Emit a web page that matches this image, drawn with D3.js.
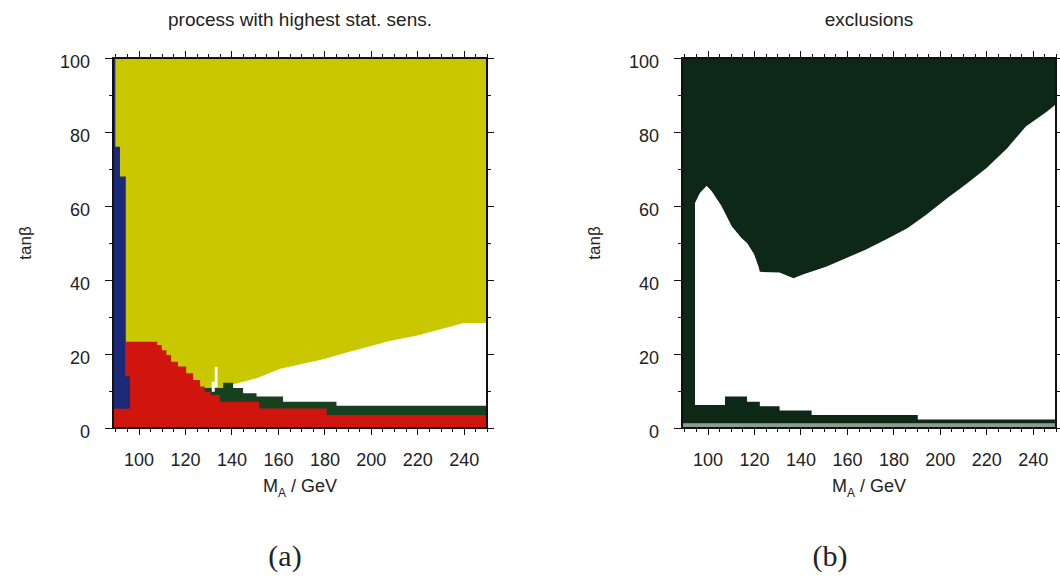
<!DOCTYPE html>
<html>
<head>
    <meta charset="utf-8">
    <script src="https://d3js.org/d3.v7.min.js"></script>
    <style>
      body { margin:0; background:#fff; }
      text { font-family: "Liberation Sans", Arial, Helvetica, sans-serif; fill:#222; }
      .axis path { stroke:none; }
      .axis line { stroke:#111; stroke-width:1; shape-rendering:crispEdges; }
      .frame { fill:none; stroke:#111; stroke-width:1.2; shape-rendering:crispEdges; }
    </style>
</head>
<body>
<script>
    // axis ticks
    var xMajor = [100, 120, 140, 160, 180, 200, 220, 240];
    var xMinor = [90, 95, 105, 110, 115, 125, 130, 135, 145, 150, 155, 165, 170, 175, 185, 190, 195, 205, 210, 215, 225, 230, 235, 245, 250];
    var yMajor = [0, 20, 40, 60, 80, 100];
    var yMinor = [10, 30, 50, 70, 90];

    // (a) process with highest stat. sens. -- region tops as [M_A, tanb], step-after
    var blueTopA = [[89, 100], [90, 76], [92, 68], [94.5, 14], [96.3, 14]];
    var blueLowA = 5.2;
    var redTopA = [[89, 5.4], [94.5, 23.3], [108, 22.4], [110, 21], [112, 19.7], [114, 17.9], [117, 16.6],
                   [120.5, 14.8], [123.5, 13], [126.5, 11.2], [128.5, 9.8], [131, 8.9], [135, 7.1],
                   [152, 5.3], [181, 3.5], [250, 3.5]];
    var greenTopA = [[127.8, 10.8], [136.4, 12.2], [140.7, 10.8], [145, 9.4], [150.8, 8.5],
                     [162.2, 7.1], [185.2, 6.0], [250, 6.0]];
    // upper edge of the white (no sensitivity) wedge
    var whiteTopA = [[139, 11.5], [151, 13.5], [161, 16], [179, 18.5], [190, 20.5], [208, 23.5],
                     [220, 25], [240, 28.4], [250, 28.4]];
    // small white crack near 133 GeV: [m0, m1, lo, hi]
    var crackA = [[131.5, 132.8, 9.8, 12.5], [132.8, 134, 11, 16.5]];

    // (b) exclusions
    var upperEdgeB = [[94.6, 60.8], [96.7, 63.5], [99.6, 65.5], [101.8, 64], [106, 60], [110.4, 54.5],
                      [114.7, 51.3], [117, 50], [120, 47], [122, 43.5], [122.5, 42.2], [131, 42],
                      [137, 40.5], [141, 41.5], [151, 43.6], [160, 46], [168, 48.2], [177, 51],
                      [186, 54], [194, 57.6], [203, 62], [211.5, 66], [220, 70.2], [229, 75.6],
                      [237, 81.5], [246, 85.5], [250, 87.5]];
    var bandTopB = [[94.6, 6.2], [107.5, 8.5], [117, 7.1], [122.5, 5.9], [131, 4.7], [144.8, 3.5],
                    [190.5, 2.3], [250, 2.3]];
    var grayTopB = 1.3;

    var W = 1060, H = 580;
    var svg = d3.select("body").append("svg").attr("width", W).attr("height", H);

    var plotTop = 58, plotH = 370, plotW = 374;
    var y = d3.scaleLinear().domain([0, 100]).range([plotTop + plotH, plotTop]);

    function makeX(left) {
        return d3.scaleLinear().domain([89, 250]).range([left, left + plotW]);
    }

    function panel(x, id, title, caption, capX) {
        var g = svg.append("g");
        g.append("clipPath").attr("id", id).append("rect")
            .attr("x", x(89)).attr("y", y(100)).attr("width", plotW).attr("height", plotH);
        var layers = g.append("g").attr("clip-path", "url(#" + id + ")");

        var mid = (x.range()[0] + x.range()[1]) / 2;
        g.append("text").attr("x", mid).attr("y", 26).attr("text-anchor", "middle")
            .style("font-size", "19px").text(title);

        var xl = g.append("text").attr("x", mid).attr("y", 492).attr("text-anchor", "middle")
            .style("font-size", "18px");
        xl.append("tspan").text("M");
        xl.append("tspan").attr("dy", 5).style("font-size", "12px").text("A");
        xl.append("tspan").attr("dy", -5).text(" / GeV");

        g.append("text").attr("transform", "translate(" + (x(89) - 88) + "," + y(50) + ") rotate(-90)")
            .attr("text-anchor", "middle").attr("dy", "0.35em").style("font-size", "17px").text("tanβ");

        g.append("text").attr("x", capX).attr("y", 566).attr("text-anchor", "middle")
            .style("font-family", "'Liberation Serif', 'DejaVu Serif', serif").style("font-size", "30px")
            .text(caption);

        return {g: g, layers: layers};
    }

    function axes(g, x) {
        var x0 = x(89), x1 = x(250), y0 = y(0), y1 = y(100);
        var bot = g.append("g").attr("class", "axis").attr("transform", "translate(0," + y0 + ")")
            .call(d3.axisBottom(x).tickValues(xMajor).tickSize(7).tickPadding(18).tickSizeOuter(0));
        bot.selectAll("text").style("font-size", "18px");
        g.append("g").attr("class", "axis").attr("transform", "translate(0," + y0 + ")")
            .call(d3.axisBottom(x).tickValues(xMinor).tickSize(4).tickFormat("").tickSizeOuter(0));
        g.append("g").attr("class", "axis").attr("transform", "translate(0," + y1 + ")")
            .call(d3.axisTop(x).tickValues(xMajor).tickSize(7).tickFormat("").tickSizeOuter(0));
        g.append("g").attr("class", "axis").attr("transform", "translate(0," + y1 + ")")
            .call(d3.axisTop(x).tickValues(xMinor).tickSize(4).tickFormat("").tickSizeOuter(0));

        var lft = g.append("g").attr("class", "axis").attr("transform", "translate(" + x0 + ",0)")
            .call(d3.axisLeft(y).tickValues(yMajor).tickSize(8).tickPadding(15).tickSizeOuter(0));
        lft.selectAll("text").style("font-size", "18px").attr("dy", "0.55em");
        g.append("g").attr("class", "axis").attr("transform", "translate(" + x0 + ",0)")
            .call(d3.axisLeft(y).tickValues(yMinor).tickSize(4).tickFormat("").tickSizeOuter(0));
        g.append("g").attr("class", "axis").attr("transform", "translate(" + x1 + ",0)")
            .call(d3.axisRight(y).tickValues(yMajor).tickSize(7).tickFormat("").tickSizeOuter(0));
        g.append("g").attr("class", "axis").attr("transform", "translate(" + x1 + ",0)")
            .call(d3.axisRight(y).tickValues(yMinor).tickSize(4).tickFormat("").tickSizeOuter(0));

        g.append("rect").attr("class", "frame")
            .attr("x", x0).attr("y", y1).attr("width", x1 - x0).attr("height", y0 - y1);
    }

    function stepArea(x, lo) {
        return d3.area().curve(d3.curveStepAfter)
            .x(function (d) { return x(d[0]); })
            .y0(y(lo))
            .y1(function (d) { return y(d[1]); });
    }

    // ---- panel (a)
    var xa = makeX(113);
    var pa = panel(xa, "clipA", "process with highest stat. sens.", "(a)", 285);
    pa.layers.append("rect").attr("x", xa(89)).attr("y", y(100))
        .attr("width", xa(250) - xa(89)).attr("height", y(0) - y(100)).attr("fill", "#c9c700");
    pa.layers.append("path").datum(whiteTopA).attr("fill", "#fff")
        .attr("d", d3.area().x(function (d) { return xa(d[0]); }).y0(y(0)).y1(function (d) { return y(d[1]); }));
    pa.layers.append("path").datum(greenTopA).attr("fill", "#17401f").attr("d", stepArea(xa, 0));
    pa.layers.append("path").datum(redTopA).attr("fill", "#d0150f").attr("d", stepArea(xa, 0));
    pa.layers.append("path").datum(blueTopA).attr("fill", "#1b2a78").attr("d", stepArea(xa, blueLowA));
    pa.layers.selectAll("rect.crack").data(crackA).enter().append("rect").attr("class", "crack")
        .attr("x", function (d) { return xa(d[0]); })
        .attr("width", function (d) { return xa(d[1]) - xa(d[0]); })
        .attr("y", function (d) { return y(d[3]); })
        .attr("height", function (d) { return y(d[2]) - y(d[3]); })
        .attr("fill", "#fff");
    axes(pa.g, xa);

    // ---- panel (b)
    var xb = makeX(682);
    var pb = panel(xb, "clipB", "exclusions", "(b)", 830);
    pb.layers.append("rect").attr("x", xb(89)).attr("y", y(100))
        .attr("width", xb(250) - xb(89)).attr("height", y(0) - y(100)).attr("fill", "#0e2818");
    pb.layers.append("path").datum(upperEdgeB).attr("fill", "#fff")
        .attr("d", d3.area().x(function (d) { return xb(d[0]); }).y0(y(0)).y1(function (d) { return y(d[1]); }));
    pb.layers.append("path").datum(bandTopB).attr("fill", "#0e2818").attr("d", stepArea(xb, 0));
    pb.layers.append("rect").attr("x", xb(89)).attr("y", y(grayTopB))
        .attr("width", xb(250) - xb(89)).attr("height", y(0) - y(grayTopB)).attr("fill", "#8d9b91");
    axes(pb.g, xb);
</script>
</body>
</html>
